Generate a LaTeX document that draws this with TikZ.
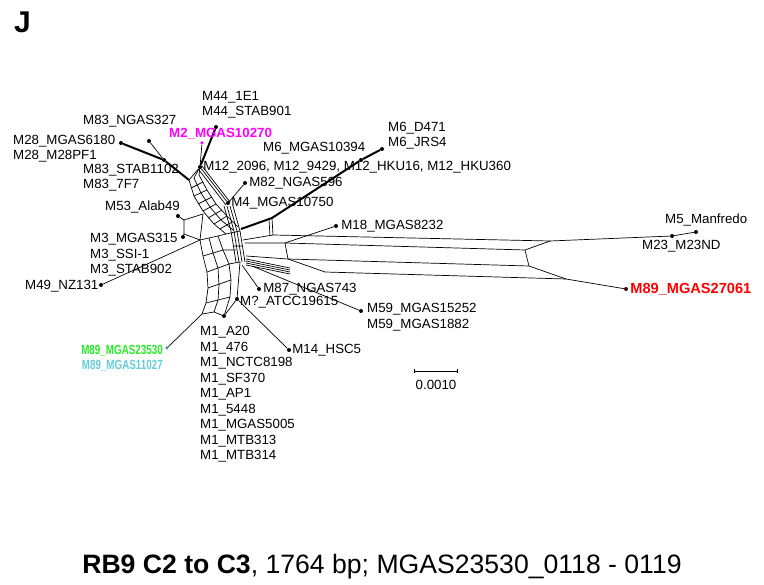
\documentclass[tikz,border=0pt]{standalone}
\usepackage{fontspec}
\setmainfont{Liberation Sans}
\usetikzlibrary{positioning}
\definecolor{lblmagenta}{RGB}{255,0,255}
\definecolor{lblred}{RGB}{255,0,0}
\definecolor{lblgreen}{RGB}{40,235,40}
\definecolor{lblcyan}{RGB}{100,205,215}
\tikzset{
  taxon/.style={circle,fill=black,inner sep=0pt,minimum size=4pt},
  lbl/.style={anchor=west,inner sep=0pt,align=left,font=\fontsize{13.3}{15.5}\selectfont},
  split/.style={line width=0.7pt},
  heavy/.style={line width=2pt}
}
\begin{document}
\begin{tikzpicture}[x=1pt,y=-1pt,line join=round]
\useasboundingbox (0,0) rectangle (764,585);

\node[anchor=west,inner sep=0pt,font=\bfseries\fontsize{30}{30}\selectfont] (panel) at (14,22) {J};

% taxa
\node[taxon] (m44) at (216,127) {};
\node[taxon,fill=lblmagenta,minimum size=3.5pt] (m2) at (202,143) {};
\node[taxon] (m83n) at (149,141) {};
\node[taxon] (m28) at (121,143) {};
\node[taxon] (m83s) at (164,160) {};
\node[taxon] (m12) at (200,167) {};
\node[taxon] (m6a) at (382,149) {};
\node[taxon] (m6b) at (361,160) {};
\node[taxon] (m82) at (245,183) {};
\node[taxon] (m4) at (228,203) {};
\node[taxon] (m53) at (178,216) {};
\node[taxon] (m3) at (183,237) {};
\node[taxon] (m49) at (101,285) {};
\node[taxon] (m18) at (336,226) {};
\node[taxon] (m5) at (696,232) {};
\node[taxon] (m23) at (672,236) {};
\node[taxon,fill=black!80!red] (m89r) at (626,289) {};
\node[taxon] (m87) at (259,289) {};
\node[taxon] (mq) at (237,299) {};
\node[taxon] (m59) at (361,311) {};
\node[taxon] (m1) at (224,316) {};
\node[taxon,fill=lblcyan!70!black,minimum size=3.5pt] (m8923) at (167,348) {};
\node[taxon] (m14) at (289,350) {};

% heavy arms
\draw[heavy] (m28) -- (m83s) -- (189,180);
\draw[split] (m83n) -- (m83s);
\draw[heavy] (m44) -- (m12);
\draw[split] (m2) -- (m12);
\draw[split] (m12) -- (189,180);
\draw[split] (m12) -- (194,178) (m12) -- (199,175);
\draw[heavy] (241,229) -- (272,218) -- (m6b) -- (m6a);

% upper left ladder
\draw[split] (189,180) -- (194,196) -- (203,211) -- (214,224) -- (226,234);
\draw[split] (194,178) -- (201,193) -- (210,207) -- (221,220) -- (233,230);
\draw[split] (199,175) -- (207,190) -- (216,204) -- (227,216) -- (238,227);
\draw[split] (194,196) -- (207,190) (203,211) -- (216,204) (214,224) -- (227,216);
\draw[split] (191,188) -- (203,182) (198,204) -- (212,197) (208,218) -- (222,210) (220,229) -- (232,222);

% M12 to M4 and on to the hub
\draw[split] (m12) -- (m4);
\draw[split] (202,166) -- (230,202);
\draw[split] (199,170) -- (226,205);
\draw[split] (m82) -- (m4);
\foreach \d in {0,3,6,9}
  \draw[split] (224+\d,206) -- (231+\d,231) -- (236+\d,262);
\draw[split] (226,234) -- (240,231) (233,246) -- (242,246);

% M53 / M3 box
\draw[split] (m53) -- (184,220) -- (203,214);
\draw[split] (184,220) -- (184,234) -- (200,240);
\draw[split] (m3) -- (184,234);
\draw[split] (203,214) -- (200,240);

% lower left arc
\draw[split] (200,240) -- (203,256) -- (207,272) -- (208,288) -- (206,303) -- (202,314);
\draw[split] (209,238) -- (213,253) -- (218,268) -- (219,285) -- (218,300) -- (214,312);
\draw[split] (218,236) -- (223,250) -- (229,264) -- (231,280) -- (230,297) -- (m1);
\draw[split] (200,240) -- (218,236) (203,256) -- (223,250) (207,272) -- (229,264)
  (208,288) -- (231,280) (206,303) -- (230,297) (202,314) -- (214,312) -- (m1);
\draw[split] (218,236) -- (226,234) (223,250) -- (236,250) (229,264) -- (240,262);
\draw[split] (m49) -- (200,240);
\draw[split] (m8923) -- (202,314);

% M6 band
\draw[split] (243,240) -- (273,235);
\draw[split] (272,218) -- (273,235) (269,219) -- (270,236);

% long band to the right
\draw[split] (273,235) -- (550,241) -- (m23) -- (m5);
\draw[split] (245,243) -- (285,243) -- (525,250) -- (550,241);
\draw[split] (285,243) -- (288,259) (525,250) -- (529,266);
\draw[split] (246,256) -- (288,259) -- (529,266) -- (566,279) -- (m89r);
\draw[split] (288,259) -- (325,272) -- (566,279);
\draw[split] (285,243) -- (m18);

% M59 band
\foreach \d in {0,2,4,6}
  \draw[split] (246,259+\d) -- (290,268+\d);
\draw[split] (252,266) -- (m59);
\draw[split] (242,265) -- (m87);
\draw[split] (240,262) -- (mq);
\draw[split] (mq) -- (m1);
\draw[split] (mq) -- (m14);

% labels
\node[lbl] (l44) at (202,104.5) {M44\_1E1\\M44\_STAB901};
\node[lbl,text=lblmagenta,font=\bfseries\fontsize{13.3}{15.5}\selectfont] (l2) at (169,134) {M2\_MGAS10270};
\node[lbl] (l83n) at (83,121) {M83\_NGAS327};
\node[lbl] (l28) at (13,148.5) {M28\_MGAS6180\\M28\_M28PF1};
\node[lbl] (l83s) at (83,177.5) {M83\_STAB1102\\M83\_7F7};
\node[lbl,right=1pt of m12] (l12) {M12\_2096, M12\_9429, M12\_HKU16, M12\_HKU360};
\node[lbl] (l6a) at (388,135.5) {M6\_D471\\M6\_JRS4};
\node[lbl] (l6b) at (263,148) {M6\_MGAS10394};
\node[lbl,right=2pt of m82] (l82) {M82\_NGAS596};
\node[lbl,right=1pt of m4] (l4) {M4\_MGAS10750};
\node[lbl] (l53) at (105,207) {M53\_Alab49};
\node[lbl] (l3) at (90,255) {M3\_MGAS315\\M3\_SSI-1\\M3\_STAB902};
\node[lbl] (l49) at (25,286) {M49\_NZ131};
\node[lbl,right=3pt of m18] (l18) {M18\_MGAS8232};
\node[lbl] (l5) at (665,220) {M5\_Manfredo};
\node[lbl] (l23) at (642,246) {M23\_M23ND};
\node[lbl,right=2pt of m89r,text=lblred,font=\bfseries\fontsize{14.6}{15.5}\selectfont] (l89r) {M89\_MGAS27061};
\node[lbl,right=2pt of m87] (l87) {M87\_NGAS743};
\node[lbl] (lq) at (240,302) {M?\_ATCC19615};
\node[lbl] (l59) at (367,317) {M59\_MGAS15252\\M59\_MGAS1882};
\node[lbl] (l1) at (200,394.5) {M1\_A20\\M1\_476\\M1\_NCTC8198\\M1\_SF370\\M1\_AP1\\M1\_5448\\M1\_MGAS5005\\M1\_MTB313\\M1\_MTB314};
\node[lbl,anchor=east,align=right,font=\bfseries\fontsize{13.3}{15.5}\selectfont] (l8923) at (163,358)
  {\scalebox{0.74}[1]{\textcolor{lblgreen}{M89\_MGAS23530}}\\\scalebox{0.74}[1]{\textcolor{lblcyan}{M89\_MGAS11027}}};
\node[lbl,right=1pt of m14] (l14) {M14\_HSC5};

% scale bar
\coordinate (sb1) at (414,371);
\coordinate (sb2) at (457,371);
\draw[split] (sb1) -- (sb2);
\draw[split] (414,369) -- (414,373) (457,369) -- (457,373);
\node[lbl,anchor=center] (sbl) at (436,385) {0.0010};

\node[inner sep=0pt,font=\fontsize{26.6}{26.6}\selectfont] (caption) at (382,567)
  {\textbf{RB9 C2 to C3}, 1764 bp; MGAS23530\_0118 - 0119};
\end{tikzpicture}
\end{document}
